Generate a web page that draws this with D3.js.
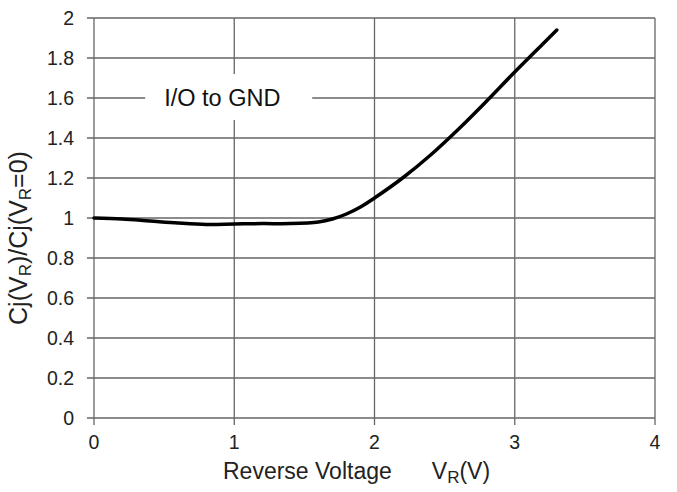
<!DOCTYPE html>
<html>
<head>
<meta charset="utf-8">
<script src="https://cdn.jsdelivr.net/npm/d3@7"></script>
<style>
  body { margin: 0; background: #fff; }
  text { font-family: "Liberation Sans", Arial, sans-serif; fill: #222; }
</style>
</head>
<body>
<svg width="677" height="492"></svg>
<script>
const svg = d3.select('svg');
const W = +svg.attr('width');
const H = +svg.attr('height');

// curve
const voltage = [0, 0.2, 0.4, 0.6, 0.8, 1.0, 1.2, 1.4, 1.6, 1.7, 1.8, 1.9, 2.0, 2.2, 2.4, 2.6, 2.8, 3.0, 3.2, 3.3];
const ratio   = [1.0, 0.995, 0.985, 0.975, 0.968, 0.97, 0.972, 0.972, 0.98, 0.995, 1.02, 1.055, 1.1, 1.2, 1.315, 1.445, 1.585, 1.73, 1.87, 1.94];
const xTicks = [0, 1, 2, 3, 4];
const yTicks = [0, 0.2, 0.4, 0.6, 0.8, 1, 1.2, 1.4, 1.6, 1.8, 2];
const legendLabel = 'I/O to GND';

const margin = { top: 18, left: 94, bottom: 74, right: 22 };
const innerW = W - margin.left - margin.right;
const innerH = H - margin.top - margin.bottom;

const x = d3.scaleLinear().domain([0, 4]).range([0, innerW]);
const y = d3.scaleLinear().domain([0, 2]).range([innerH, 0]);

const g = svg.append('g')
  .attr('transform', `translate(${margin.left}, ${margin.top})`);

// grid
g.append('g').selectAll('line').data(yTicks).enter().append('line')
  .attr('x1', -7).attr('x2', innerW)
  .attr('y1', d => y(d)).attr('y2', d => y(d))
  .attr('stroke', '#666').attr('stroke-width', 1.3);
g.append('g').selectAll('line').data(xTicks).enter().append('line')
  .attr('x1', d => x(d)).attr('x2', d => x(d))
  .attr('y1', 0).attr('y2', innerH + 7)
  .attr('stroke', '#666').attr('stroke-width', 1.3);

// tick labels
g.append('g').selectAll('text').data(yTicks).enter().append('text')
  .attr('x', -20).attr('y', d => y(d))
  .attr('dy', '0.36em').attr('text-anchor', 'end')
  .style('font-size', '19.5px')
  .text(d => d);
g.append('g').selectAll('text').data(xTicks).enter().append('text')
  .attr('x', d => x(d)).attr('y', innerH + 31)
  .attr('text-anchor', 'middle')
  .style('font-size', '19.5px')
  .text(d => d);

// legend box over grid
const lg = g.append('g').attr('transform', `translate(${x(0.365)}, ${y(1.6)})`);
lg.append('rect').attr('x', 0).attr('y', -24).attr('width', 167).attr('height', 46).attr('fill', '#fff');
lg.append('text').attr('x', 19).attr('y', 0).attr('dy', '0.36em')
  .style('font-size', '23.5px').style('fill', '#111')
  .text(legendLabel);

// curve
const pts = voltage.map((v, i) => [v, ratio[i]]);
g.append('path').datum(pts)
  .attr('fill', 'none').attr('stroke', '#000')
  .attr('stroke-width', 3.5).attr('stroke-linecap', 'round')
  .attr('d', d3.line().x(d => x(d[0])).y(d => y(d[1])).curve(d3.curveCatmullRom));

// axis titles
const xt = svg.append('text')
  .attr('x', 223).attr('y', 479)
  .style('font-size', '23px');
xt.append('tspan').text('Reverse Voltage');
xt.append('tspan').attr('dx', 40).text('V');
xt.append('tspan').attr('dy', 4).style('font-size', '17px').text('R');
xt.append('tspan').attr('dy', -4).text('(V)');

const yt = svg.append('text')
  .attr('transform', `translate(27, ${margin.top + y(0.9)}) rotate(-90)`)
  .attr('text-anchor', 'middle')
  .style('font-size', '25px');
yt.append('tspan').text('Cj(V');
yt.append('tspan').attr('dy', 4).style('font-size', '17px').text('R');
yt.append('tspan').attr('dy', -4).text(')/Cj(V');
yt.append('tspan').attr('dy', 4).style('font-size', '17px').text('R');
yt.append('tspan').attr('dy', -4).text('=0)');
</script>
</body>
</html>
